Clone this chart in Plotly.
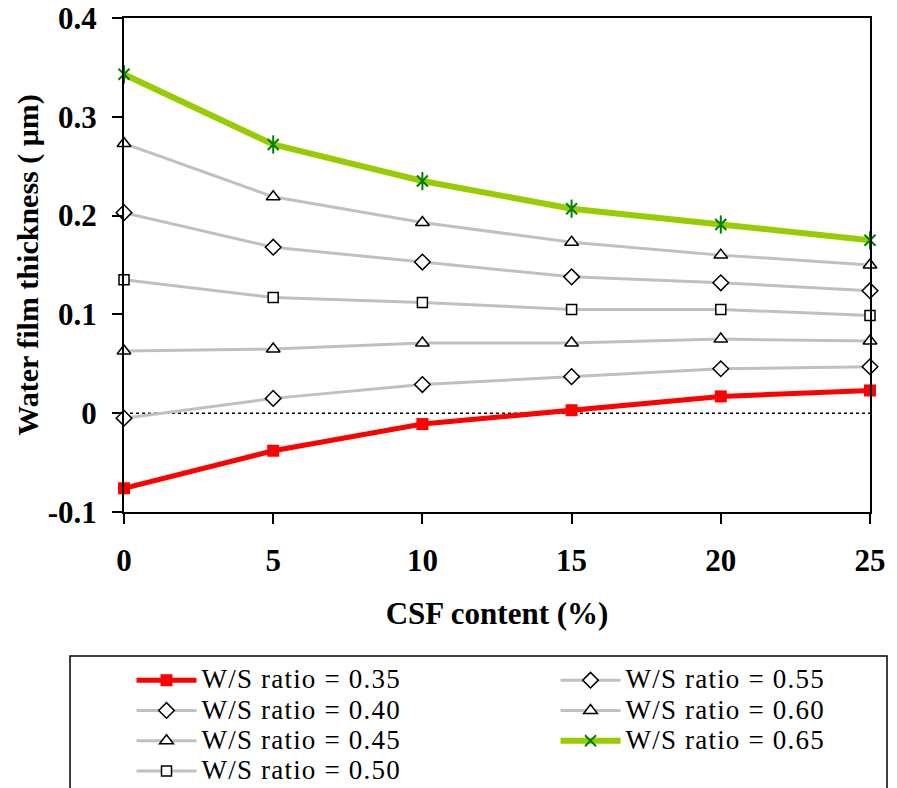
import plotly.graph_objects as go

csf = [0, 5, 10, 15, 20, 25]
ratio_labels = ["0.35", "0.40", "0.45", "0.50", "0.55", "0.60", "0.65"]
wft_035 = [-0.076, -0.038, -0.011, 0.003, 0.017, 0.023]
wft_040 = [-0.005, 0.015, 0.029, 0.037, 0.045, 0.047]
wft_045 = [0.063, 0.065, 0.071, 0.071, 0.075, 0.073]
wft_050 = [0.135, 0.117, 0.112, 0.105, 0.105, 0.099]
wft_055 = [0.203, 0.168, 0.153, 0.138, 0.132, 0.124]
wft_060 = [0.273, 0.219, 0.193, 0.173, 0.160, 0.150]
wft_065 = [0.343, 0.272, 0.235, 0.207, 0.191, 0.175]

GREEN_MK = "#008000"
series = {
    "0.35": dict(y=wft_035, line=dict(color="#ff0000", width=5),
                 marker=dict(symbol="square", size=12, color="#ff0000", line=dict(width=0))),
    "0.40": dict(y=wft_040, line=dict(color="#c0c0c0", width=3),
                 marker=dict(symbol="diamond", size=12, color="white", line=dict(color="black", width=1.5))),
    "0.45": dict(y=wft_045, line=dict(color="#c0c0c0", width=3),
                 marker=dict(symbol="triangle-up", size=12, color="white", line=dict(color="black", width=1.5))),
    "0.50": dict(y=wft_050, line=dict(color="#c0c0c0", width=3),
                 marker=dict(symbol="square", size=10, color="white", line=dict(color="black", width=1.5))),
    "0.55": dict(y=wft_055, line=dict(color="#c0c0c0", width=3),
                 marker=dict(symbol="diamond", size=12, color="white", line=dict(color="black", width=1.5))),
    "0.60": dict(y=wft_060, line=dict(color="#c0c0c0", width=3),
                 marker=dict(symbol="triangle-up", size=12, color="white", line=dict(color="black", width=1.5))),
    "0.65": dict(y=wft_065, line=dict(color="#99cc00", width=6),
                 marker=dict(symbol="x-thin-open", size=11, color=GREEN_MK, line=dict(color=GREEN_MK, width=2))),
}

# legend order (column-major in 2 columns)
legend_order = ["0.35", "0.55", "0.40", "0.60", "0.45", "0.65", "0.50"]
rank = {k: i for i, k in enumerate(legend_order)}

fig = go.Figure()
fig.add_hline(y=0, line=dict(color="black", width=1.5, dash="dot"), layer="below")

for key in ratio_labels:
    s = series[key]
    fig.add_trace(go.Scatter(
        x=csf, y=s["y"], mode="lines+markers",
        name='<span style="font-size:27px;letter-spacing:1.2px">W/S ratio = ' + key + "</span>",
        line=s["line"], marker=s["marker"], cliponaxis=False,
        legendrank=rank[key] + 1, legendgroup=key,
    ))

# vertical stroke completing the asterisk markers of the 0.65 series
fig.add_trace(go.Scatter(
    x=csf, y=wft_065, mode="markers", showlegend=False, legendgroup="0.65",
    marker=dict(symbol="line-ns-open", size=13, color=GREEN_MK, line=dict(color=GREEN_MK, width=2)),
    cliponaxis=False, hoverinfo="skip",
))

W, H = 897, 788
PL, PT, PB, PR = 124, 18, 512, 870
pw, ph = PR - PL, PB - PT


def px_x(p):
    return (p - PL) / pw


def px_y(p):
    return (PB - p) / ph


fig.add_shape(type="rect", xref="paper", yref="paper",
              x0=px_x(70), x1=px_x(887), y0=px_y(656), y1=px_y(820),
              line=dict(color="black", width=1.5), fillcolor="rgba(0,0,0,0)")

font_serif = "Liberation Serif, Times New Roman, serif"
fig.update_layout(
    width=W, height=H,
    margin=dict(l=PL, r=W - PR, t=PT, b=H - PB, autoexpand=False),
    paper_bgcolor="white", plot_bgcolor="white",
    font=dict(family=font_serif, color="black"),
    showlegend=True,
    legend=dict(
        orientation="h", x=-0.002, xanchor="left", y=px_y(660), yanchor="top",
        font=dict(family=font_serif, size=21, color="black"),
        itemwidth=60, entrywidth=340, entrywidthmode="pixels", indentation=9,
        bgcolor="rgba(0,0,0,0)", borderwidth=0, traceorder="normal",
        itemclick=False,
    ),
    xaxis=dict(
        range=[0, 25], tickvals=csf, ticktext=[str(v) for v in csf],
        showgrid=False, zeroline=False, showline=True, linecolor="black", linewidth=2,
        mirror=True, ticks="outside", ticklen=10, tickwidth=2, tickcolor="black",
        tickfont=dict(family=font_serif, size=31, color="black", weight="bold"),
        ticklabelstandoff=10, ticklabeloverflow="allow",
        title=dict(text="CSF content (%)", standoff=25,
                   font=dict(family=font_serif, size=31, color="black", weight="bold")),
    ),
    yaxis=dict(
        range=[-0.1, 0.4], tickvals=[-0.1, 0, 0.1, 0.2, 0.3, 0.4],
        ticktext=["-0.1", "0", "0.1", "0.2", "0.3", "0.4"],
        showgrid=False, zeroline=False, showline=True, linecolor="black", linewidth=2,
        mirror=True, ticks="outside", ticklen=10, tickwidth=2, tickcolor="black",
        tickfont=dict(family=font_serif, size=31, color="black", weight="bold"),
        ticklabelstandoff=9, ticklabeloverflow="allow",
        title=dict(text="Water film thickness ( μm)", standoff=0,
                   font=dict(family=font_serif, size=30, color="black", weight="bold")),
    ),
)

fig.write_html("out.html", config={"displayModeBar": False},
               post_script="document.body.style.margin='0px';")
